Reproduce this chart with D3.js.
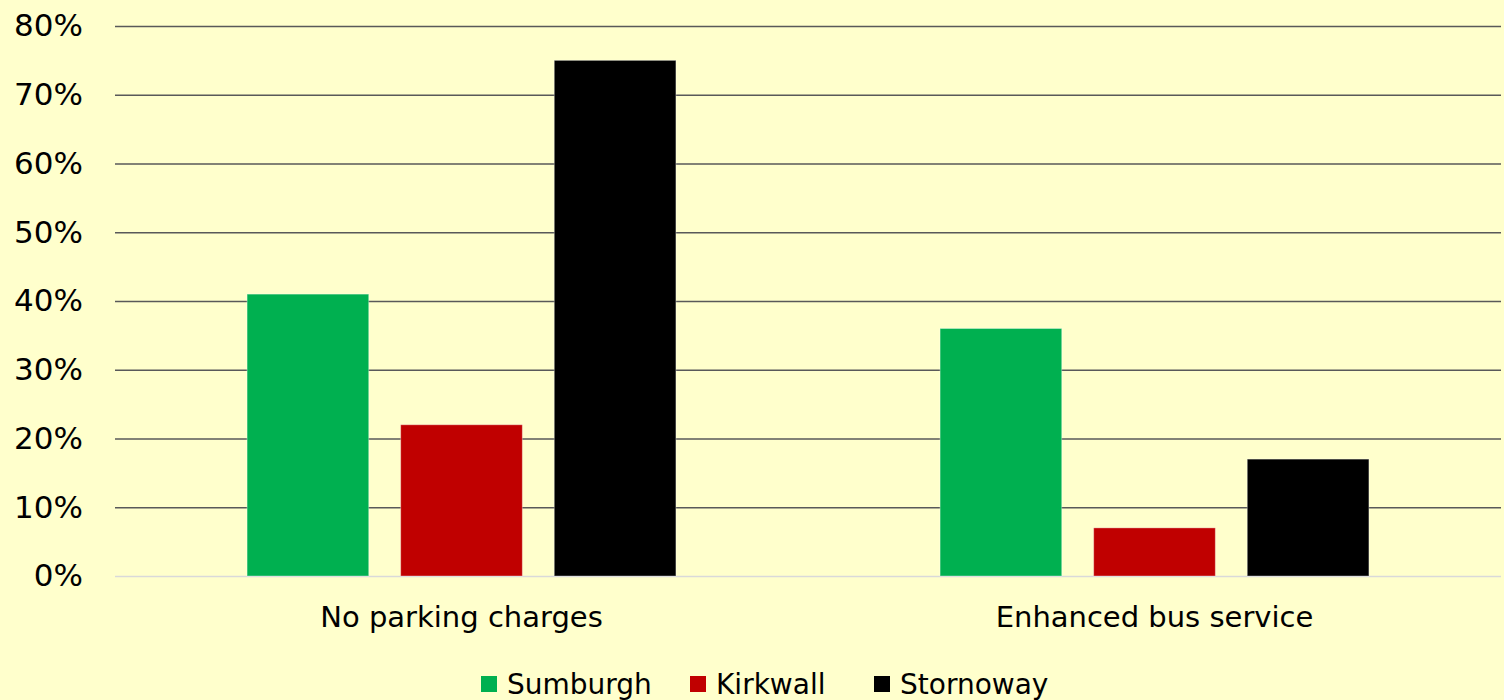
<!DOCTYPE html>
<html>
<head>
<meta charset="utf-8">
<script src="https://cdn.jsdelivr.net/npm/d3@7"></script>
<style>
  html, body { margin: 0; padding: 0; background: #FFFFCC; }
  svg { display: block; }
  text { font-family: "Century Gothic", "DejaVu Sans", sans-serif; fill: #000; }
</style>
</head>
<body>
<svg id="chart" width="1504" height="700"></svg>
<script>
// data
var categories = ["No parking charges", "Enhanced bus service"];
var seriesNames = ["Sumburgh", "Kirkwall", "Stornoway"];
var sumburgh = [0.41, 0.36];
var kirkwall = [0.22, 0.07];
var stornoway = [0.75, 0.17];
var yTicks = [0, 0.1, 0.2, 0.3, 0.4, 0.5, 0.6, 0.7, 0.8];

var colors = ["#00B050", "#C00000", "#000000"];
var seriesValues = [sumburgh, kirkwall, stornoway];

var width = 1504, height = 700;
var margin = {left: 115, right: 3, top: 26, bottom: 124};

var svg = d3.select("#chart");

var x0 = d3.scaleBand()
	.domain(categories)
	.range([margin.left, width - margin.right])
	.paddingInner(0)
	.paddingOuter(0);

var x1 = d3.scaleBand()
	.domain(seriesNames)
	.range([0, x0.bandwidth()])
	.paddingInner(0.208)
	.paddingOuter(0.86);

var y = d3.scaleLinear()
	.domain([0, 0.8])
	.range([height - margin.bottom, margin.top]);

// gridlines
var yAxis = d3.axisLeft(y)
	.tickValues(yTicks)
	.tickFormat(d3.format(".0%"))
	.tickSize(-(width - margin.left - margin.right))
	.tickPadding(32);

var gy = svg.append("g")
	.attr("transform", "translate(" + margin.left + ",0)")
	.call(yAxis);
gy.select(".domain").remove();
gy.selectAll(".tick line")
	.attr("stroke", function(d){ return d == 0 ? "#D9D9D9" : "#595959"; })
	.attr("stroke-width", 1.6);
gy.selectAll(".tick text")
	.attr("font-size", "31px")
	.attr("fill", "#000");

// bars
var rows = [];
for (var i = 0; i < categories.length; i++) {
	for (var j = 0; j < seriesNames.length; j++) {
		rows.push({cat: categories[i], name: seriesNames[j], value: seriesValues[j][i], color: colors[j]});
	}
}

svg.append("g")
	.selectAll("rect")
	.data(rows)
	.enter()
	.append("rect")
	.attr("x", function(d){ return x0(d.cat) + x1(d.name); })
	.attr("y", function(d){ return y(d.value); })
	.attr("width", x1.bandwidth())
	.attr("height", function(d){ return y(0) - y(d.value); })
	.attr("fill", function(d){ return d.color; })
	.attr("stroke", "rgba(255,255,255,0.35)")
	.attr("stroke-width", 1);

// category labels
var xAxis = d3.axisBottom(x0).tickSize(0).tickPadding(30);
var gx = svg.append("g")
	.attr("transform", "translate(0," + y(0) + ")")
	.call(xAxis);
gx.select(".domain").remove();
gx.selectAll(".tick text")
	.attr("font-size", "29px")
	.attr("fill", "#000");

// legend
var legendX = [481, 690, 874];
var legend = svg.append("g")
	.selectAll("g")
	.data(seriesNames)
	.enter()
	.append("g")
	.attr("transform", function(d, i){ return "translate(" + legendX[i] + ",676)"; });

legend.append("rect")
	.attr("width", 16)
	.attr("height", 16)
	.attr("fill", function(d, i){ return colors[i]; });

legend.append("text")
	.attr("x", 26)
	.attr("y", 8)
	.attr("dy", "0.35em")
	.attr("font-size", "28px")
	.text(function(d){ return d; });
</script>
</body>
</html>
